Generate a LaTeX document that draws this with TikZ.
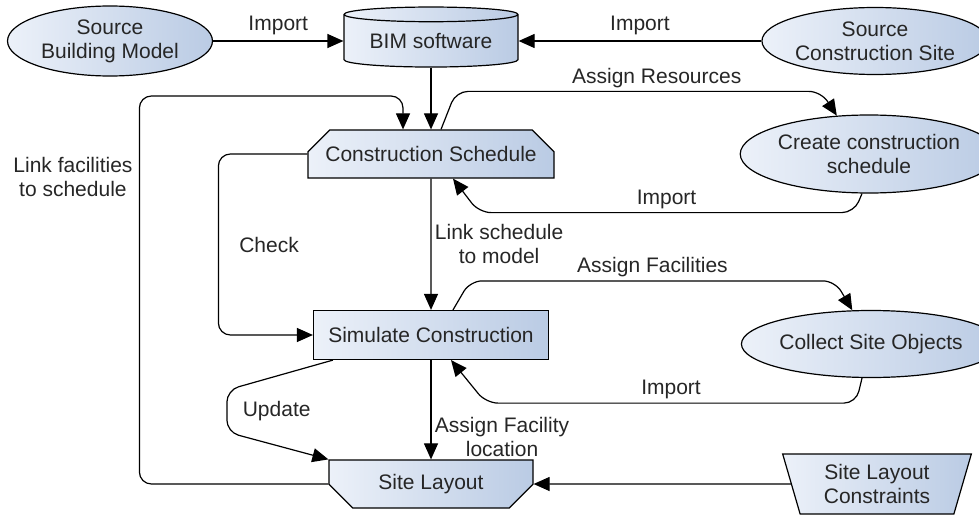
\documentclass[tikz,border=0pt]{standalone}
\usepackage{fontspec}
\setmainfont{Liberation Sans}
\usetikzlibrary{arrows.meta,shapes.geometric,shapes.misc,positioning}

\definecolor{fillL}{RGB}{236,241,249}
\definecolor{fillR}{RGB}{186,203,228}
\definecolor{ink}{RGB}{38,38,38}

\begin{document}
\begin{tikzpicture}[x=1pt, y=-1pt, >={Triangle[length=16pt,width=14pt]},
    every node/.style={font=\fontsize{21}{24}\selectfont, text=ink, align=center},
    tint/.style={draw=black, line width=1.2pt, left color=fillL, right color=fillR, inner sep=0pt},
    source/.style={tint, ellipse},
    store/.style={tint, cylinder, shape border rotate=90, aspect=0.12},
    task/.style={tint, chamfered rectangle, chamfered rectangle xsep=14pt, chamfered rectangle ysep=14pt},
    flow/.style={->, line width=1.2pt, rounded corners=12pt}]
      \useasboundingbox (0,0) rectangle (979,516);

      % top row
      \node[source, minimum width=205pt, minimum height=70pt] (SrcModel) at (110,41) {Source\\Building Model};
      \node[store, minimum width=174pt, minimum height=60pt] (BIM) at (431,41) {BIM software};
      \node[source, minimum width=204pt, minimum height=67pt] (SrcSite) at (875,41) {Source\\Construction Site};

      % middle column
      \node[task, chamfered rectangle corners={north west,north east}, minimum width=246pt, minimum height=48pt] (Schedule) at (431,154) {Construction Schedule};
      \node[tint, rectangle, minimum width=235pt, minimum height=49pt] (Simulate) at (431,335) {Simulate Construction};
      \node[task, chamfered rectangle corners={south west,south east}, minimum width=204pt, minimum height=48pt] (Layout) at (431,484) {Site Layout};

      % right column
      \node[source, minimum width=218pt, minimum height=78pt] (CreateSched) at (869,154) {Create construction\\schedule};
      \node[source, minimum width=213pt, minimum height=67pt] (Collect) at (871,344) {Collect Site Objects};
      \node[tint, trapezium, trapezium left angle=107, trapezium right angle=107, trapezium stretches=true, minimum width=189pt, minimum height=60pt] (Constraints) at (877,484) {Site Layout\\Constraints};

      \draw[flow] (SrcModel) -- node[above=2pt]{Import} (BIM);
      \draw[flow] (SrcSite) -- node[above=2pt]{Import} (BIM);
      \draw[flow] (BIM) -- (Schedule);

      \draw[flow] ([xshift=10pt]Schedule.north) -- ++(15,-38) -- node[above, pos=0.55]{Assign Resources} ++(365,0) -- (CreateSched.130);
      \draw[flow] ([xshift=-7pt]CreateSched.south) -- ++(-8,19) -- node[above]{Import} ++(-375,0) -- ([xshift=22pt]Schedule.south);

      \draw[flow] (Schedule) -- node[right]{Link schedule\\to model} (Simulate);
      \draw[flow] (Schedule.west) -- ++(-89,0) |- node[pos=0.25, right=17pt]{Check} (Simulate.west);

      \draw[flow] ([xshift=22pt]Simulate.north) -- ++(17,-29) -- node[above]{Assign Facilities} ++(365,0) -- (Collect.119);
      \draw[flow] ([xshift=-9pt]Collect.south) -- ++(-6,25) -- node[above]{Import} ++(-370,0) -- ([xshift=20pt]Simulate.south);

      \draw[flow] (Simulate) -- node[pos=0.77, right]{Assign Facility\\location} (Layout);
      \draw[flow] ([xshift=20pt]Simulate.south west) -- ++(-106,30) -- node[right=12pt]{Update} ++(0,42) -- (Layout.north west);

      % feedback loop round the left side
      \draw[flow] (Layout.west) -- ++(-189,0) -- node[pos=0.79, left=3pt]{Link facilities\\to schedule} ++(0,-388) -| ([xshift=-28pt]Schedule.north);

      \draw[flow] (Constraints) -- (Layout);
    \end{tikzpicture}
\end{document}
